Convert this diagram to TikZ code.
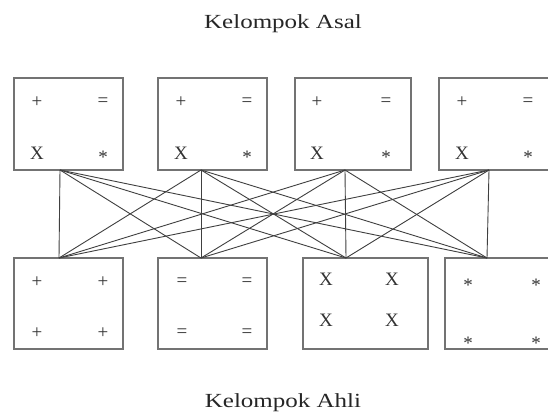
\documentclass[tikz,border=0pt]{standalone}
\usepackage{fontspec}
\setmainfont{Liberation Serif}
\begin{document}
\begin{tikzpicture}[x=1pt,y=-1pt,
  box/.style={draw=black!55,line width=1.4pt,rectangle,inner sep=0pt,outer sep=0pt},
  sym/.style={inner sep=0pt,font=\fontsize{19}{19}\selectfont,text=black!80},
  star/.style={sym,yshift=-5pt},
  title/.style={inner sep=0pt,anchor=base,xscale=1.25,font=\fontsize{20}{20}\selectfont,text=black!85},
  link/.style={draw=black!75,line width=0.9pt}]
\clip (0,0) rectangle (548,412);
\fill[white] (0,0) rectangle (548,412);

% titles
\node[title] (asal) at (283,29) {Kelompok Asal};
\node[title] (ahli) at (283,407) {Kelompok Ahli};

% home groups (top row)
\node[box,minimum width=109pt,minimum height=92pt] (t1) at (68.5,124) {};
\node[box,minimum width=109pt,minimum height=92pt] (t2) at (212.5,124) {};
\node[box,minimum width=116pt,minimum height=92pt] (t3) at (353,124) {};
\node[box,minimum width=112pt,minimum height=92pt] (t4) at (495,124) {};

% expert groups (bottom row)
\node[box,minimum width=109pt,minimum height=91pt] (b1) at (68.5,303.5) {};
\node[box,minimum width=109pt,minimum height=91pt] (b2) at (212.5,303.5) {};
\node[box,minimum width=125pt,minimum height=91pt] (b3) at (365.5,303.5) {};
\node[box,minimum width=110pt,minimum height=91pt] (b4) at (500,303.5) {};

% symbols in the home groups
\foreach \n/\xa/\xb in {t1/37/103, t2/181/247, t3/317/386, t4/462/528}{
  \node[sym] (\n-p) at (\xa,102) {+};
  \node[sym] (\n-e) at (\xb,102) {=};
  \node[sym] (\n-x) at (\xa,153) {X};
  \node[star] (\n-s) at (\xb,152) {*};
}

% symbols in the expert groups
\node[sym] (b1-a) at (37,282) {+};
\node[sym] (b1-b) at (103,282) {+};
\node[sym] (b1-c) at (37,333) {+};
\node[sym] (b1-d) at (103,333) {+};
\node[sym] (b2-a) at (182,282) {=};
\node[sym] (b2-b) at (247,282) {=};
\node[sym] (b2-c) at (182,333) {=};
\node[sym] (b2-d) at (247,333) {=};
\node[sym] (b3-a) at (326,279) {X};
\node[sym] (b3-b) at (392,279) {X};
\node[sym] (b3-c) at (326,320) {X};
\node[sym] (b3-d) at (392,320) {X};
\node[star] (b4-a) at (468,280) {*};
\node[star] (b4-b) at (536,280) {*};
\node[star] (b4-c) at (468,338) {*};
\node[star] (b4-d) at (536,338) {*};

% attachment points on the box edges
\coordinate (u1) at (t1.south west -| 60,0);
\coordinate (u2) at (t2.south west -| 201,0);
\coordinate (u3) at (t3.south west -| 345,0);
\coordinate (u4) at (t4.south west -| 489,0);
\coordinate (d1) at (b1.north west -| 59,0);
\coordinate (d2) at (b2.north west -| 201,0);
\coordinate (d3) at (b3.north west -| 346,0);
\coordinate (d4) at (b4.north west -| 487,0);

% every home group sends one member to every expert group
\foreach \i in {1,...,4}{
  \foreach \j in {1,...,4}{
    \draw[link] (u\i) -- (d\j);
  }
}
\end{tikzpicture}
\end{document}
